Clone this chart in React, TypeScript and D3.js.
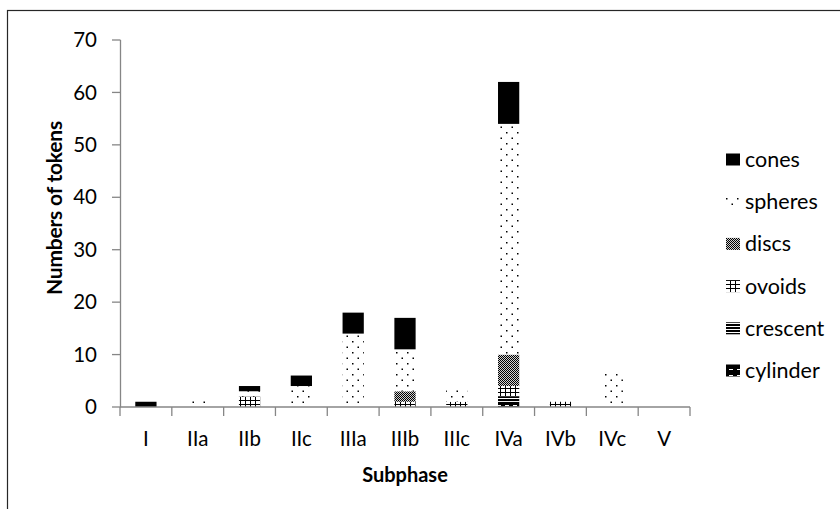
import * as React from 'react';
import * as d3 from 'd3';

// token counts per subphase
const categories = ['I', 'IIa', 'IIb', 'IIc', 'IIIa', 'IIIb', 'IIIc', 'IVa', 'IVb', 'IVc', 'V'];
const cylinder = [0, 0, 0, 0, 0, 0, 0, 1, 0, 0, 0];
const crescent = [0, 0, 0, 0, 0, 0, 0, 1, 0, 0, 0];
const ovoids = [0, 0, 2, 0, 0, 1, 1, 2, 1, 0, 0];
const discs = [0, 0, 0, 0, 0, 2, 0, 6, 0, 0, 0];
const spheres = [0, 1.5, 1, 4, 14, 8, 2.5, 44, 0, 7, 0.3];
const cones = [1, 0, 1, 2, 4, 6, 0, 8, 0, 0, 0];

const seriesNames = ['cylinder', 'crescent', 'ovoids', 'discs', 'spheres', 'cones'];
const seriesValues = [cylinder, crescent, ovoids, discs, spheres, cones];
const yTicks = [0, 10, 20, 30, 40, 50, 60, 70];

const FONT = 'Lato, "Open Sans", sans-serif';
const AXIS = '#868686';

export default function App() {
  const margin = { left: 120, right: 690, top: 40, bottom: 407 };

  const x = d3.scaleBand<string>().domain(categories).range([margin.left, margin.right]);
  const y = d3.scaleLinear().domain([0, 70]).range([margin.bottom, margin.top]);

  const rows = categories.map((c, i) => {
    const r: any = { cat: c };
    seriesNames.forEach((s, j) => { r[s] = seriesValues[j][i]; });
    return r;
  });
  const stacked = d3.stack<any>().keys(seriesNames)(rows);

  const barW = x.bandwidth() * 0.41;
  const fillOf = (s: string) => 'url(#p-' + s + ')';

  const legendOrder = seriesNames.slice().reverse();

  return (
    <svg width={840} height={509} style={{ position: 'absolute', left: 0, top: 0 }}
      fontFamily={FONT}>
      <defs>
        <pattern id="p-cones" patternUnits="userSpaceOnUse" width={4} height={4}>
          <rect width={4} height={4} fill="#000" />
        </pattern>
        <pattern id="p-spheres" patternUnits="userSpaceOnUse" width={11} height={11}>
          <rect width={11} height={11} fill="#fff" />
          <rect x={0} y={0} width={1.5} height={1.5} fill="#000" />
          <rect x={5.5} y={5.5} width={1.5} height={1.5} fill="#000" />
        </pattern>
        <pattern id="p-discs" patternUnits="userSpaceOnUse" width={2} height={2}>
          <rect width={2} height={2} fill="#d0d0d0" />
          <rect x={0} y={0} width={1} height={1} fill="#000" />
          <rect x={1} y={1} width={1} height={1} fill="#000" />
        </pattern>
        <pattern id="p-ovoids" patternUnits="userSpaceOnUse" width={5} height={4}>
          <rect width={5} height={4} fill="#fff" />
          <rect x={0} y={0} width={1} height={4} fill="#000" />
          <rect x={0} y={0} width={5} height={1} fill="#000" />
        </pattern>
        <pattern id="p-crescent" patternUnits="userSpaceOnUse" width={4} height={3}>
          <rect width={4} height={3} fill="#000" />
          <rect x={0} y={2} width={4} height={1} fill="#fff" />
        </pattern>
        <pattern id="p-cylinder" patternUnits="userSpaceOnUse" width={8} height={6}>
          <rect width={8} height={6} fill="#000" />
          <rect x={1} y={3} width={4} height={1} fill="#fff" />
        </pattern>
      </defs>

      {/* outer frame */}
      <rect x={7.5} y={10.5} width={900} height={600} fill="none" stroke="#262626" strokeWidth={1.2} />

      {/* bars */}
      {stacked.map((layer) => (
        <g key={layer.key}>
          {layer.map((d, i) => {
            const h = y(d[0]) - y(d[1]);
            if (h <= 0) return null;
            const cx = (x(categories[i]) as number) + x.bandwidth() / 2;
            return (
              <rect key={i} x={cx - barW / 2} y={y(d[1])} width={barW} height={h}
                fill={fillOf(layer.key)} />
            );
          })}
        </g>
      ))}

      {/* y axis */}
      <line x1={margin.left + 0.5} x2={margin.left + 0.5} y1={y(70)} y2={y(0)} stroke={AXIS} strokeWidth={1.3} />
      {yTicks.map((t) => (
        <g key={t}>
          <line x1={margin.left - 8} x2={margin.left + 0.5} y1={y(t)} y2={y(t)} stroke={AXIS} strokeWidth={1.3} />
          <text x={97} y={y(t)} dy="0.35em" textAnchor="end" fontSize={20.5} fill="#000">{t}</text>
        </g>
      ))}

      {/* x axis */}
      <line x1={margin.left} x2={margin.right} y1={y(0)} y2={y(0)} stroke={AXIS} strokeWidth={1.3} />
      {categories.concat(['']).map((c, i) => {
        const bx = margin.left + i * x.step();
        return <line key={'t' + i} x1={bx} x2={bx} y1={y(0)} y2={y(0) + 9} stroke={AXIS} strokeWidth={1.3} />;
      })}
      {categories.map((c) => (
        <text key={c} x={(x(c) as number) + x.bandwidth() / 2} y={446} textAnchor="middle" fontSize={20.5} fill="#000">{c}</text>
      ))}

      {/* axis titles */}
      <text x={(margin.left + margin.right) / 2} y={482} textAnchor="middle" fontSize={20} fontWeight="bold">Subphase</text>
      <text transform={`translate(62,208) rotate(-90)`} textAnchor="middle"
        fontSize={21} fontWeight="bold" letterSpacing={-0.2}>Numbers of tokens</text>

      {/* legend */}
      {legendOrder.map((s, i) => {
        const cy = 159.5 + i * 42.2;
        return (
          <g key={s}>
            <rect x={726} y={cy - 6} width={14} height={12} fill={fillOf(s)} />
            <text x={745} y={cy} dy="0.35em" fontSize={21.5} fill="#000">{s}</text>
          </g>
        );
      })}
    </svg>
  );
}
